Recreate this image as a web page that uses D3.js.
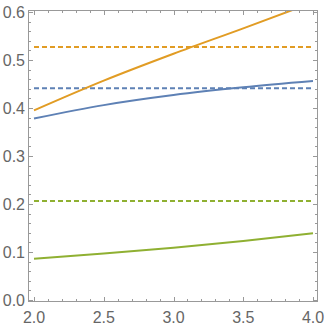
<!DOCTYPE html>
<html>
<head>
<meta charset="utf-8">
<script src="https://cdn.jsdelivr.net/npm/d3@7"></script>
<style>
  body { margin: 0; background: #fff; }
  .lbl { font-family: "Liberation Sans", "DejaVu Sans", sans-serif; font-size: 16px; fill: #666; }
</style>
</head>
<body>
<div id="chart"></div>
<script>
// sampled x positions
var xs = [2.0, 2.5, 3.0, 3.5, 4.0];
// solid curves
var blueCurve = [0.378, 0.406, 0.427, 0.443, 0.456];
var orangeCurve = [0.395, 0.457, 0.513, 0.566, 0.62];
var greenCurve = [0.086, 0.097, 0.109, 0.123, 0.139];
// dashed horizontal levels
var blueLevel = 0.441;
var orangeLevel = 0.527;
var greenLevel = 0.206;

var xTicks = [2.0, 2.5, 3.0, 3.5, 4.0];
var yTicks = [0.0, 0.1, 0.2, 0.3, 0.4, 0.5, 0.6];

var width = 327, height = 326;
var frame = {left: 28, right: 318, top: 10, bottom: 302};

var svg = d3.select("#chart").append("svg")
    .attr("width", width)
    .attr("height", height);

var xScale = d3.scaleLinear().domain([2, 4]).range([34, 313]);
var yScale = d3.scaleLinear().domain([0, 0.6]).range([300, 12]);

svg.append("clipPath").attr("id", "clip")
  .append("rect")
    .attr("x", frame.left).attr("y", frame.top)
    .attr("width", frame.right - frame.left)
    .attr("height", frame.bottom - frame.top);

var plot = svg.append("g").attr("clip-path", "url(#clip)");

var line = d3.line()
    .x(function(d) { return xScale(d[0]); })
    .y(function(d) { return yScale(d[1]); })
    .curve(d3.curveMonotoneX);

var series = [
  {vals: greenCurve, level: greenLevel, color: "#8FB032"},
  {vals: blueCurve, level: blueLevel, color: "#5E81B5"},
  {vals: orangeCurve, level: orangeLevel, color: "#E19C24"}
];

series.forEach(function(s) {
  plot.append("line")
    .attr("x1", xScale(2)).attr("x2", xScale(4))
    .attr("y1", yScale(s.level)).attr("y2", yScale(s.level))
    .attr("stroke", s.color)
    .attr("stroke-width", 2)
    .attr("stroke-dasharray", "5,3");
});

series.forEach(function(s) {
  plot.append("path")
    .datum(xs.map(function(x, i) { return [x, s.vals[i]]; }))
    .attr("d", line)
    .attr("fill", "none")
    .attr("stroke", s.color)
    .attr("stroke-width", 2);
});

// frame
var tickColor = "#999";
svg.append("rect")
    .attr("x", frame.left + 0.5).attr("y", frame.top + 0.5)
    .attr("width", frame.right - frame.left - 1)
    .attr("height", frame.bottom - frame.top - 1)
    .attr("fill", "none")
    .attr("stroke", tickColor)
    .attr("stroke-width", 1);

// ticks
var xMinor = d3.range(20, 41).map(function(d) { return d / 10; });
var yMinor = d3.range(0, 31).map(function(d) { return d / 50; });

function isMajor(v, step) { return Math.abs(v / step - Math.round(v / step)) < 1e-6; }

xMinor.forEach(function(v) {
  var len = isMajor(v, 0.5) ? 5 : 3;
  var x = Math.round(xScale(v)) + 0.5;
  svg.append("line").attr("x1", x).attr("x2", x)
    .attr("y1", frame.bottom).attr("y2", frame.bottom - len)
    .attr("stroke", tickColor);
  svg.append("line").attr("x1", x).attr("x2", x)
    .attr("y1", frame.top).attr("y2", frame.top + len)
    .attr("stroke", tickColor);
});

yMinor.forEach(function(v) {
  var len = isMajor(v, 0.1) ? 5 : 3;
  var y = Math.round(yScale(v)) + 0.5;
  svg.append("line").attr("y1", y).attr("y2", y)
    .attr("x1", frame.left).attr("x2", frame.left + len)
    .attr("stroke", tickColor);
  svg.append("line").attr("y1", y).attr("y2", y)
    .attr("x1", frame.right).attr("x2", frame.right - len)
    .attr("stroke", tickColor);
});

svg.selectAll(".xl").data(xTicks).enter().append("text")
    .attr("class", "lbl")
    .attr("x", function(d) { return xScale(d); })
    .attr("y", 323)
    .attr("text-anchor", "middle")
    .text(function(d) { return d.toFixed(1); });

svg.selectAll(".yl").data(yTicks).enter().append("text")
    .attr("class", "lbl")
    .attr("x", 25)
    .attr("y", function(d) { return yScale(d) + 6; })
    .attr("text-anchor", "end")
    .text(function(d) { return d.toFixed(1); });
</script>
</body>
</html>
